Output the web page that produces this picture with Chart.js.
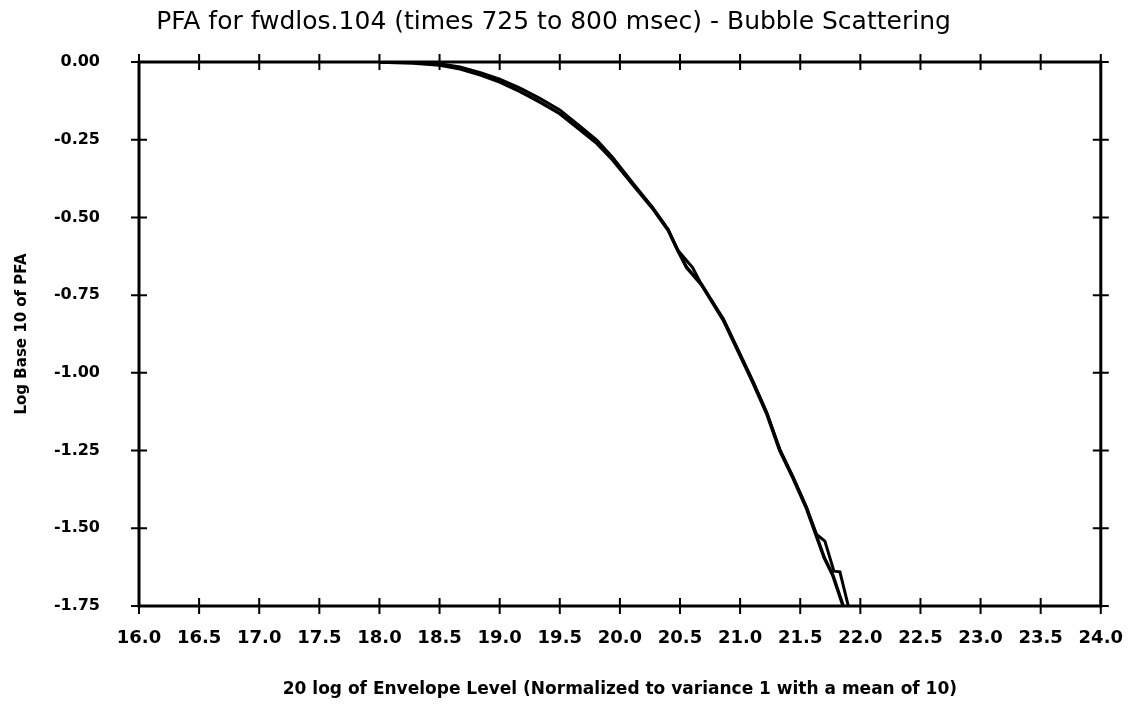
<!DOCTYPE html>
<html>
<head>
<meta charset="utf-8">
<script src="https://cdn.jsdelivr.net/npm/chart.js@4"></script>
<style>
  html, body { margin: 0; padding: 0; background: #fff; }
  #wrap { width: 1137px; height: 710px; }
</style>
</head>
<body>
<div id="wrap"><canvas id="pfa"></canvas></div>
<script>
// curve 1 (the smooth one)
const envA = [18.0, 18.28, 18.5, 18.67, 18.84, 19.0, 19.17, 19.33, 19.5, 19.67, 19.81, 19.94, 20.11, 20.27, 20.40, 20.48, 20.555, 20.68, 20.86, 21.02, 21.11, 21.22, 21.33, 21.44, 21.55, 21.65, 21.70, 21.77, 21.857];
const pfaA = [0, -0.003, -0.010, -0.022, -0.041, -0.064, -0.095, -0.128, -0.166, -0.218, -0.262, -0.315, -0.395, -0.470, -0.540, -0.605, -0.661, -0.717, -0.830, -0.960, -1.034, -1.130, -1.250, -1.338, -1.434, -1.541, -1.595, -1.650, -1.750];

// curve 2 (loop near 20.6, steps near the bottom)
const envB = [18.0, 18.3, 18.5, 18.67, 18.84, 19.0, 19.17, 19.33, 19.5, 19.67, 19.81, 19.94, 20.11, 20.27, 20.40, 20.48, 20.605, 20.68, 20.86, 21.02, 21.11, 21.22, 21.33, 21.44, 21.55, 21.636, 21.705, 21.747, 21.78, 21.83, 21.9];
const pfaB = [0, 0, -0.006, -0.016, -0.034, -0.055, -0.084, -0.116, -0.154, -0.207, -0.252, -0.307, -0.391, -0.467, -0.538, -0.605, -0.661, -0.717, -0.826, -0.956, -1.030, -1.126, -1.246, -1.335, -1.430, -1.520, -1.541, -1.595, -1.638, -1.640, -1.750];

const xTicks = [16.0, 16.5, 17.0, 17.5, 18.0, 18.5, 19.0, 19.5, 20.0, 20.5, 21.0, 21.5, 22.0, 22.5, 23.0, 23.5, 24.0];
const yTicks = [0.00, -0.25, -0.50, -0.75, -1.00, -1.25, -1.50, -1.75];

const titleText = 'PFA for fwdlos.104 (times 725 to 800 msec) - Bubble Scattering';
const xTitle = '20 log of Envelope Level (Normalized to variance 1 with a mean of 10)';
const yTitle = 'Log Base 10 of PFA';

function toPoints(xs, ys) {
    return xs.map((v, i) => ({ x: v, y: ys[i] }));
}

// box around the plot with ticks crossing each side
const frameTicks = {
    id: 'frameTicks',
    afterDatasetsDraw(chart) {
        const { ctx, chartArea: a, scales: { x, y } } = chart;
        ctx.save();
        ctx.strokeStyle = '#000';
        ctx.lineWidth = 3;
        ctx.strokeRect(a.left, a.top, a.right - a.left, a.bottom - a.top);
        ctx.lineWidth = 2;
        ctx.beginPath();
        xTicks.forEach(v => {
            const px = x.getPixelForValue(v);
            ctx.moveTo(px, a.top - 8); ctx.lineTo(px, a.top + 8);
            ctx.moveTo(px, a.bottom - 8); ctx.lineTo(px, a.bottom + 8);
        });
        yTicks.forEach(v => {
            const py = y.getPixelForValue(v);
            ctx.moveTo(a.left - 8, py); ctx.lineTo(a.left + 8, py);
            ctx.moveTo(a.right - 8, py); ctx.lineTo(a.right + 8, py);
        });
        ctx.stroke();
        ctx.restore();
    }
};

const ctx = document.getElementById('pfa').getContext('2d');
new Chart(ctx, {
    type: 'scatter',
    data: {
        datasets: [
            { data: toPoints(envA, pfaA), showLine: true, borderColor: '#000', borderWidth: 3.5, pointRadius: 0, tension: 0 },
            { data: toPoints(envB, pfaB), showLine: true, borderColor: '#000', borderWidth: 3, pointRadius: 0, tension: 0 }
        ]
    },
    options: {
        responsive: true,
        maintainAspectRatio: false,
        animation: false,
        layout: { padding: { left: 0, right: 30, top: 0, bottom: 0 } },
        scales: {
            x: {
                type: 'linear',
                min: 16, max: 24,
                afterFit: s => { s.height = 104; },
                afterBuildTicks: s => { s.ticks = xTicks.map(v => ({ value: v })); },
                ticks: {
                    color: '#000',
                    padding: 14,
                    maxRotation: 0,
                    font: { family: 'DejaVu Sans', size: 18, weight: 'bold' },
                    callback: v => Number(v).toFixed(1)
                },
                grid: { display: false },
                border: { display: false },
                title: {
                    display: true, text: xTitle, color: '#000',
                    font: { family: 'DejaVu Sans', size: 17, weight: 'bold' },
                    padding: { top: 0, bottom: 10 }
                }
            },
            y: {
                type: 'linear',
                min: -1.75, max: 0,
                afterFit: s => { s.width = 139; },
                afterBuildTicks: s => { s.ticks = yTicks.map(v => ({ value: v })); },
                ticks: {
                    color: '#000',
                    padding: 31,
                    font: { family: 'DejaVu Sans', size: 16, weight: 'bold' },
                    callback: v => Number(v).toFixed(2)
                },
                grid: { display: false },
                border: { display: false },
                title: {
                    display: true, text: yTitle, color: '#000',
                    font: { family: 'DejaVu Sans', size: 15, weight: 'bold' },
                    padding: { top: 13, bottom: 0 }
                }
            }
        },
        plugins: {
            legend: { display: false },
            tooltip: { enabled: false },
            title: {
                display: true, text: titleText, color: '#000',
                font: { family: 'DejaVu Sans', size: 25, weight: 'normal', lineHeight: 1.2 },
                padding: { top: 7, bottom: 25 }
            }
        }
    },
    plugins: [frameTicks]
});
</script>
</body>
</html>
